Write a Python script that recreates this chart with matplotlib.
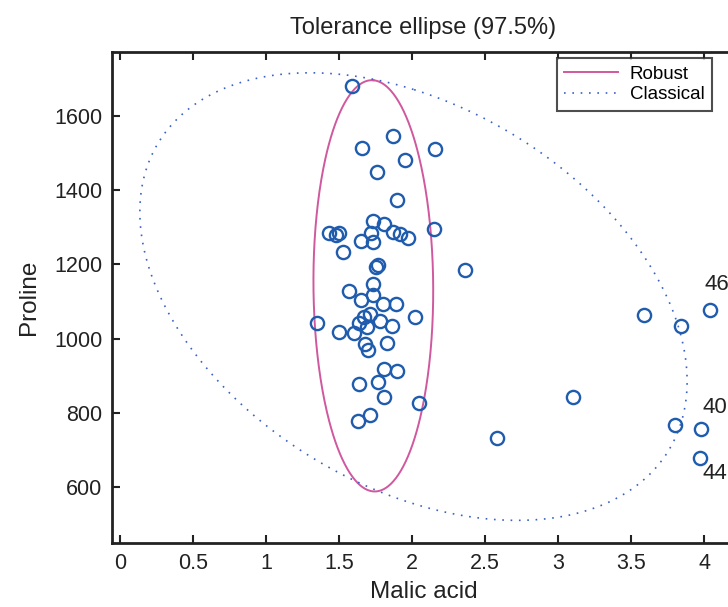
import numpy as np
import matplotlib
matplotlib.use("Agg")
import matplotlib.pyplot as plt

plt.rcParams['font.family'] = ['Liberation Sans', 'DejaVu Sans']

# Malic acid / Proline
malic = [1.59, 1.87, 1.66, 2.16, 1.95, 1.76, 1.90, 1.73, 1.81, 1.43,
         1.48, 1.50, 1.72, 1.87, 1.92, 1.97, 1.65, 1.73, 2.15, 1.53,
         1.75, 1.77, 2.36, 1.73, 1.57, 1.65, 1.73, 1.80, 1.89, 2.02,
         1.35, 1.50, 1.60, 1.64, 1.67, 1.71, 1.69, 1.78, 1.86, 1.68,
         1.70, 1.83, 1.81, 1.90, 1.64, 1.77, 1.81, 2.05, 1.63, 1.71,
         3.10, 2.58, 4.04, 3.59, 3.84, 3.80, 3.98, 3.97]
proline = [1680, 1547, 1514, 1510, 1480, 1450, 1373, 1318, 1308, 1284,
           1280, 1285, 1284, 1288, 1281, 1270, 1263, 1259, 1294, 1233,
           1193, 1198, 1186, 1148, 1128, 1103, 1118, 1093, 1093, 1058,
           1043, 1018, 1014, 1043, 1058, 1065, 1032, 1047, 1033, 984,
           969, 988, 918, 913, 877, 883, 843, 827, 777, 793,
           843, 732, 1078, 1064, 1033, 768, 757, 677]

outlier_ids = ["46", "40", "44"]
outlier_x = [4.04, 3.98, 3.97]
outlier_y = [1078, 757, 677]

# ellipse centres and covariances
robust_center = [1.735, 1142]
robust_cov = [[0.151 ** 2, -0.75], [-0.75, 204.0 ** 2]]
classic_center = [2.01, 1113]
classic_cov = [[0.690 ** 2, -58.0], [-58.0, 222.0 ** 2]]
chi2_975 = 7.3778


def ellipse_points(center, cov, n=400):
    t = np.linspace(0.5 * np.pi, 2.5 * np.pi, n)
    L = np.linalg.cholesky(np.array(cov))
    circ = np.vstack([np.cos(t), np.sin(t)]) * np.sqrt(chi2_975)
    pts = L @ circ
    return pts[0] + center[0], pts[1] + center[1]


fig = plt.figure(figsize=(7.28, 6.07), dpi=100)
ax = fig.add_axes([0.1538, 0.1054, 0.8558, 0.8089])

blue = '#1f5cae'
magenta = '#d0589e'
dark = '#222222'

ex, ey = ellipse_points(robust_center, robust_cov)
ax.plot(ex, ey, color=magenta, lw=1.4, label='Robust')
ex, ey = ellipse_points(classic_center, classic_cov)
ax.plot(ex, ey, color='#3b62c4', lw=1.2, linestyle=(0, (1, 4)), label='Classical')

ax.plot(malic, proline, 'o', mfc='none', mec=blue, ms=9.5, mew=1.7, zorder=3)

offsets = [(-4, 18), (1, 15), (2, -11)]
for lab, x, y, off in zip(outlier_ids, outlier_x, outlier_y, offsets):
    ax.annotate(lab, (x, y), xytext=off, textcoords='offset points',
                fontsize=16, color=dark, va='center', ha='left')

ax.set_xlim(-0.055, 4.212)
ax.set_ylim(449, 1772)
ax.set_xticks([0, 0.5, 1, 1.5, 2, 2.5, 3, 3.5, 4])
ax.set_xticklabels(['0', '0.5', '1', '1.5', '2', '2.5', '3', '3.5', '4'])
ax.set_yticks([600, 800, 1000, 1200, 1400, 1600])

ax.tick_params(direction='in', top=True, right=False, length=6, width=1.5,
               labelsize=15.5, colors=dark, pad=7)
for s in ax.spines.values():
    s.set_linewidth(2)
    s.set_color(dark)

ax.set_xlabel('Malic acid', fontsize=17.5, color=dark, labelpad=5)
ax.set_ylabel('Proline', fontsize=17.5, color=dark, labelpad=10)
ax.set_title('Tolerance ellipse (97.5%)', fontsize=17, color=dark, pad=13)

leg = ax.legend(loc='upper right', fontsize=13.5, frameon=True, fancybox=False,
                borderpad=0.4, handlelength=2.9, labelspacing=0.2,
                bbox_to_anchor=(0.963, 0.988), borderaxespad=0.0, handletextpad=0.6)
leg.get_frame().set_edgecolor(dark)
leg.get_frame().set_linewidth(1.5)

fig.savefig('out.png', dpi=100)
